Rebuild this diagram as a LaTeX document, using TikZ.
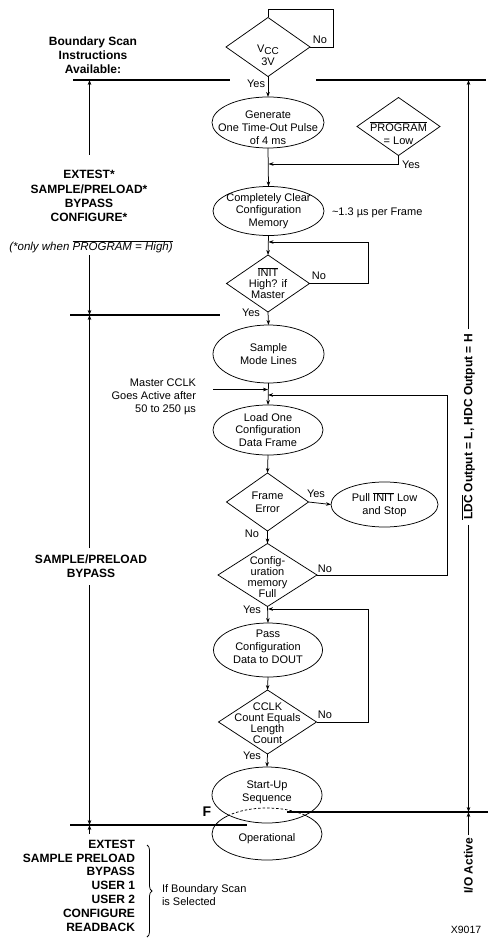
\documentclass[tikz,border=0pt]{standalone}
\usepackage{fontspec}
\setmainfont{Liberation Sans}
\usetikzlibrary{shapes.geometric,arrows.meta,decorations.pathreplacing}
\newcommand{\ovl}[1]{$\overline{\hbox{#1}}$}
\begin{document}
\begin{tikzpicture}[x=1pt,y=-1pt,
  every node/.style={inner sep=0pt,outer sep=0pt},
  flow/.style={line width=0.75pt},
  arr/.style={flow,-{Stealth[length=5pt,width=3.6pt]}},
  dec/.style={draw,diamond,line width=0.75pt,inner sep=0pt},
  proc/.style={draw,ellipse,line width=0.75pt,inner sep=0pt},
  txt/.style={font=\fontsize{11}{12.8}\selectfont,align=center},
  tight/.style={font=\fontsize{11}{11}\selectfont,align=center},
  lab/.style={font=\fontsize{11}{13}\selectfont},
  bld/.style={font=\fontsize{12}{14.2}\selectfont\bfseries,align=center},
  bar/.style={line width=2.6pt},
]
\useasboundingbox (0,0) rectangle (490,941);

% ---------- horizontal bars
\coordinate (L1a) at (73,80);  \coordinate (L1b) at (230,80);
\coordinate (R1a) at (316,80); \coordinate (R1b) at (486,80);
\coordinate (L2a) at (70,315); \coordinate (L2b) at (220,315);
\coordinate (L3a) at (70,825); \coordinate (L3b) at (247,825);
\coordinate (R3a) at (287,812); \coordinate (R3b) at (488,812);
\draw[bar] (L1a) -- (L1b);
\draw[bar] (R1a) -- (R1b);
\draw[bar] (L2a) -- (L2b);
\draw[bar] (L3a) -- (L3b);
\draw[bar] (R3a) -- (R3b);

% ---------- flow shapes
\node[dec,minimum width=84pt,minimum height=59pt] (vcc) at (268,47) {};
\node[txt] (vcct) at (268,55) {V\raisebox{-2.5pt}{\fontsize{10}{10}\selectfont CC}\\3V};
\node[proc,minimum width=112pt,minimum height=51pt] (gen) at (268,122.5) {};
\node[txt] (gent) at (268,128) {Generate\\One Time-Out Pulse\\of 4 ms};
\node[dec,minimum width=83pt,minimum height=58pt] (prog) at (398.5,126.5) {};
\node[txt] (progt) at (398.5,133) {\ovl{PROGRAM}\\= Low};
\node[proc,minimum width=111pt,minimum height=49pt] (clear) at (268.5,211) {};
\node[txt] (cleart) at (268.5,211) {Completely Clear\\Configuration\\Memory};
\node[dec,minimum width=83pt,minimum height=57pt] (init) at (268,283.5) {};
\node[tight] (initt) at (268,283) {\ovl{INIT}\\High? if\\Master};
\node[proc,minimum width=111pt,minimum height=58pt] (sample) at (268.5,354) {};
\node[txt] (samplet) at (268.5,354) {Sample\\Mode Lines};
\node[proc,minimum width=110pt,minimum height=50pt] (load) at (268,430) {};
\node[txt] (loadt) at (268,430) {Load One\\Configuration\\Data Frame};
\node[dec,minimum width=82pt,minimum height=58pt] (frame) at (267.5,502) {};
\node[txt] (framet) at (267.5,502.5) {Frame\\Error};
\node[proc,minimum width=107pt,minimum height=45pt] (pull) at (384.5,504.5) {};
\node[txt] (pullt) at (384.5,504.5) {Pull \ovl{INIT} Low\\and Stop};
\node[dec,minimum width=99pt,minimum height=63pt] (full) at (267.5,575) {};
\node[tight] (fullt) at (267.5,577) {Config-\\uration\\memory\\Full};
\node[proc,minimum width=109pt,minimum height=54pt] (pass) at (268,650) {};
\node[txt] (passt) at (268,647) {Pass\\Configuration\\Data to DOUT};
\node[dec,minimum width=98pt,minimum height=64pt] (cclk) at (267.5,722) {};
\node[tight] (cclkt) at (267.5,723) {CCLK\\Count Equals\\Length\\Count};
\node[proc,minimum width=110pt,minimum height=56pt] (start) at (267,795) {};
\node[txt] (startt) at (267,792) {Start-Up\\Sequence};
\node[proc,draw=none,minimum width=110pt,minimum height=52pt] (oper) at (267,834) {};
\node[txt] (opert) at (267,839) {Operational};

% Operational outline: solid outside Start-Up, dashed where hidden behind it
\begin{scope}[even odd rule]
  \clip (0,0) rectangle (490,941) (267,795) ellipse [x radius=55pt,y radius=28pt];
  \draw[flow] (267,834) ellipse [x radius=55pt,y radius=26pt];
\end{scope}
\begin{scope}
  \clip (267,795) ellipse [x radius=55pt,y radius=28pt];
  \draw[flow,dash pattern=on 2.5pt off 2pt] (267,834) ellipse [x radius=55pt,y radius=26pt];
\end{scope}

% ---------- connectors of the flow
\coordinate (vloop) at (333,9);
\draw[flow] (vcc.east) -| (vloop) -| (vcc.north);
\node[lab] (vno) at (320,40) {No};
\draw[arr] (vcc.south) -- (gen.north);
\node[lab,anchor=east] (vyes) at (265,84) {Yes};
\draw[arr] (gen.south) -- (clear.north);
\coordinate (pj) at (268.5,164);
\draw[arr] (prog.south) |- (pj);
\node[lab,anchor=west] (pyes) at (402,165) {Yes};
\node[lab,anchor=west] (frm) at (332,213) {\textasciitilde1.3 µs per Frame};
\draw[arr] (clear.south) -- (init.north);
\coordinate (ix) at (368,242); \coordinate (ij) at (268.5,242);
\draw[arr] (init.east) -| (ix) -- (ij);
\node[lab] (ino) at (319,276) {No};
\draw[arr] (init.south) -- (sample.north);
\node[lab] (iyes) at (251,313) {Yes};
\draw[arr] (sample.south) -- (load.north);
\coordinate (ms) at (213,389.5); \coordinate (mj) at (268,389.5);
\draw[arr] (ms) -- (mj);
\node[lab,align=right,anchor=east] (mtxt) at (196,397) {Master CCLK\\Goes Active after\\50 to 250 µs};
\coordinate (fx) at (447,395); \coordinate (fj) at (268,395);
\draw[arr] (full.east) -| (fx) -- (fj);
\draw[arr] (load.south) -- (frame.north);
\draw[arr] (frame.east) -- (pull.west);
\node[lab] (fyes) at (316,494) {Yes};
\draw[arr] (frame.south) -- (full.north);
\node[lab] (fno) at (252,534) {No};
\node[lab] (funo) at (325,569) {No};
\draw[arr] (full.south) -- (pass.north);
\node[lab] (fuyes) at (252,610) {Yes};
\coordinate (cx) at (368,609); \coordinate (cj) at (268,609);
\draw[arr] (cclk.east) -| (cx) -- (cj);
\draw[arr] (pass.south) -- (cclk.north);
\node[lab] (cno) at (325,715) {No};
\draw[arr] (cclk.south) -- (start.north);
\node[lab] (cyes) at (252,756) {Yes};
\node[font=\fontsize{14}{14}\selectfont\bfseries] (F) at (207,812) {F};

% ---------- left side annotations
\node[bld] (bsi) at (93,55) {Boundary Scan\\Instructions\\Available:};
\node[bld] (ext) at (89,196) {EXTEST*\\SAMPLE/PRELOAD*\\BYPASS\\CONFIGURE*};
\node[font=\fontsize{11.5}{13}\selectfont\itshape] (only) at (91,247) {(*only when \ovl{\itshape PROGRAM = High)}};
\node[bld] (spb) at (91,566) {SAMPLE/PRELOAD\\BYPASS};
\node[bld,align=right,anchor=north east,font=\fontsize{12}{13.8}\selectfont\bfseries] (bot) at (135,840) {EXTEST\\SAMPLE PRELOAD\\BYPASS\\USER 1\\USER 2\\CONFIGURE\\READBACK};
\coordinate (bra) at (147,845); \coordinate (brb) at (147,937);
\draw[flow,decorate,decoration={brace,amplitude=5pt}] (bra) -- (brb);
\node[lab,align=left,anchor=west] (ifb) at (162,895) {If Boundary Scan\\is Selected};
\node[font=\fontsize{10.5}{12}\selectfont] (x9017) at (466,930) {X9017};

\coordinate (a1t) at (89.5,155); \coordinate (a1b) at (89.5,255);
\coordinate (a2t) at (89.5,548); \coordinate (a2b) at (89.5,585);
\coordinate (a3t) at (89.5,834);
\coordinate (L1x) at (89.5,80); \coordinate (L2x) at (89.5,315); \coordinate (L3x) at (89.5,825);
\draw[arr] (a1t) -- (L1x);
\draw[arr] (a1b) -- (L2x);
\draw[arr] (a2t) -- (L2x);
\draw[arr] (a2b) -- (L3x);
\draw[arr] (a3t) -- (L3x);

% ---------- right side annotations
\node[bld,rotate=90,inner sep=5pt] (ldc) at (468.5,427) {\ovl{LDC} Output = L, HDC Output = H};
\node[bld,rotate=90,inner sep=3pt,anchor=east] (io) at (468.5,835) {I/O Active};
\coordinate (R1x) at (468.5,80); \coordinate (R3x) at (468.5,812);
\draw[arr] (ldc.east) -- (R1x);
\draw[arr] (ldc.west) -- (R3x);
\draw[arr] (io.east) -- (R3x);
\end{tikzpicture}
\end{document}
